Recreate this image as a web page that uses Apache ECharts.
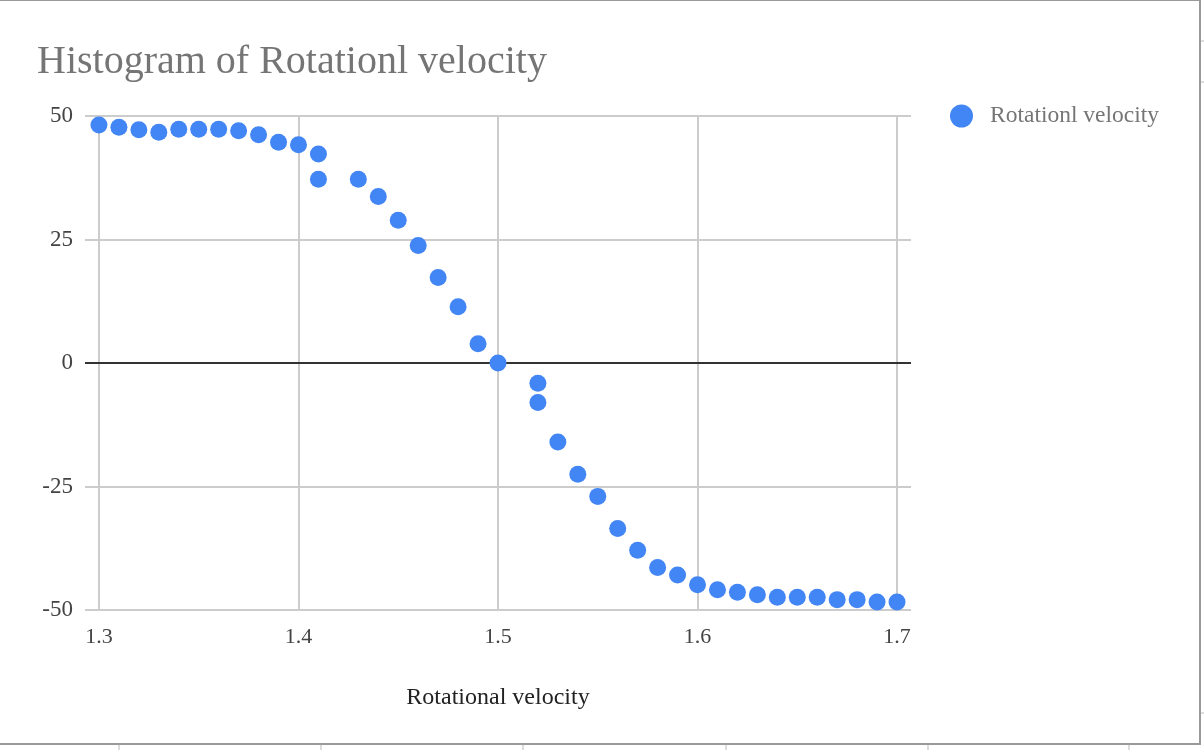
<!DOCTYPE html>
<html>
<head>
<meta charset="utf-8">
<script src="https://cdn.jsdelivr.net/npm/echarts@6/dist/echarts.min.js"></script>
<style>html,body{margin:0;padding:0;background:#fff;}#c{width:1204px;height:750px;}</style>
</head>
<body>
<div id="c"></div>
<script>
const titleText = 'Histogram of Rotationl velocity';
const seriesName = 'Rotationl velocity';
const xAxisName = 'Rotational velocity';
const xValues = [1.30,1.31,1.32,1.33,1.34,1.35,1.36,1.37,1.38,1.39,1.40,1.41,1.41,1.43,1.44,1.45,1.46,1.47,1.48,1.49,1.50,
  1.52,1.52,1.53,1.54,1.55,1.56,1.57,1.58,1.59,1.60,1.61,1.62,1.63,1.64,1.65,1.66,1.67,1.68,1.69,1.70];
const yValues = [48.2,47.7,47.2,46.7,47.3,47.3,47.3,47.0,46.2,44.7,44.2,42.3,37.2,37.2,33.7,28.9,23.8,17.3,11.4,3.9,0,
  -4.1,-8.0,-16.0,-22.5,-27.0,-33.5,-37.9,-41.4,-42.9,-44.9,-45.9,-46.4,-46.9,-47.4,-47.4,-47.4,-47.9,-47.9,-48.4,-48.4];
const xTicks = [1.3,1.4,1.5,1.6,1.7];
const yTicks = [-50,-25,0,25,50];

const points = xValues.map((x,i)=>[x,yValues[i]]);
const serif = 'Liberation Serif';
const chart = echarts.init(document.getElementById('c'));
chart.setOption({
  backgroundColor:'#fff',
  animation:false,
  title:{text:titleText,left:32,top:37,textStyle:{fontFamily:serif,fontSize:40,fontWeight:'normal',color:'#757575'}},
  legend:{left:945,top:99,itemWidth:23,itemHeight:23,itemGap:10,icon:'circle',
    textStyle:{fontFamily:serif,fontSize:23.5,color:'#757575',padding:[0,0,0,12]},data:[seriesName]},
  grid:{left:85,right:293,top:116,bottom:140},
  xAxis:{type:'value',min:1.293,max:1.707,
    name:xAxisName,nameLocation:'middle',nameGap:76,
    nameTextStyle:{fontFamily:serif,fontSize:24,color:'#222'},
    axisLine:{show:false},
    axisTick:{show:false,customValues:xTicks},
    axisLabel:{customValues:xTicks,margin:16,fontFamily:serif,fontSize:22,color:'#444',formatter:v=>v.toFixed(1)},
    splitLine:{show:true,lineStyle:{color:'#cccccc',width:2}}},
  yAxis:{type:'value',min:yTicks[0],max:yTicks[yTicks.length-1],interval:25,
    axisLine:{show:false},axisTick:{show:false},
    axisLabel:{margin:12,fontFamily:serif,fontSize:23,color:'#444'},
    splitLine:{show:true,lineStyle:{color:'#cccccc',width:2}}},
  series:[{name:seriesName,type:'scatter',data:points,symbol:'circle',symbolSize:17,
    itemStyle:{color:'#4285F4',opacity:1},z:5,
    markLine:{silent:true,symbol:['none','none'],label:{show:false},
      lineStyle:{color:'#333',width:2,type:'solid'},data:[{yAxis:0}],z:3}}],
  graphic:[
    {type:'rect',shape:{x:-5,y:0,width:1205,height:744},style:{fill:'none',stroke:'#9a9a9a',lineWidth:2},silent:true,z:10},
    ...[119,321,523,726,928,1129].map(x=>({type:'line',shape:{x1:x,y1:745,x2:x,y2:750},style:{stroke:'#dddddd',lineWidth:2},silent:true})),
    ...[41,82,713].map(y=>({type:'line',shape:{x1:1201,y1:y,x2:1204,y2:y},style:{stroke:'#dddddd',lineWidth:2},silent:true}))
  ]
});
</script>
</body>
</html>
